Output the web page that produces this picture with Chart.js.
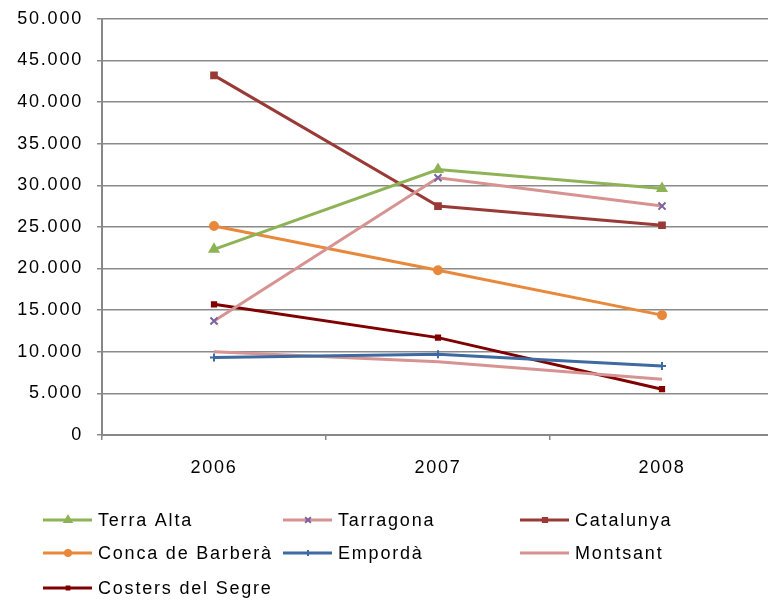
<!DOCTYPE html>
<html>
<head>
<meta charset="utf-8">
<script src="https://cdn.jsdelivr.net/npm/chart.js@4.4.1/dist/chart.umd.min.js"></script>
<style>
  html, body { margin: 0; padding: 0; background: #fff; overflow: hidden; }
  #clip { width: 768px; height: 604px; overflow: hidden; }
  #wrap { width: 781px; height: 610px; position: relative; margin-top: -6px; }
</style>
</head>
<body>
<div id="clip"><div id="wrap"><canvas id="myChart"></canvas></div></div>
<script>
// datos
const years = ['2006', '2007', '2008'];
const terraAlta = [22300, 31900, 29600];
const tarragona = [13700, 30900, 27500];
const catalunya = [43200, 27500, 25200];
const concaBarbera = [25100, 19800, 14400];
const emporda = [9300, 9700, 8300];
const montsant = [10000, 8800, 6700];
const costersSegre = [15700, 11700, 5500];
const yTicks = [0, 5000, 10000, 15000, 20000, 25000, 30000, 35000, 40000, 45000, 50000];

const FONT = 'Liberation Sans, Arial, sans-serif';

const mkSet = (label, data, color, style, radius, pointColor) => ({
    label: label,
    data: data,
    borderColor: color,
    backgroundColor: pointColor || color,
    pointBorderColor: pointColor || color,
    pointBackgroundColor: pointColor || color,
    borderWidth: 3,
    pointStyle: style,
    pointRadius: radius,
    pointBorderWidth: 2,
    tension: 0
});

const datasets = [
    mkSet('Terra Alta', terraAlta, '#8EB356', 'triangle', 5),
    mkSet('Tarragona', tarragona, '#D69391', 'crossRot', 5, '#7B62A3'),
    mkSet('Catalunya', catalunya, '#9A3A36', 'rect', 4),
    mkSet('Conca de Barberà', concaBarbera, '#E8883A', 'circle', 4),
    mkSet('Empordà', emporda, '#3C6AA1', 'cross', 4),
    mkSet('Montsant', montsant, '#D69391', 'circle', 0),
    mkSet('Costers del Segre', costersSegre, '#800000', 'rect', 3)
];

// el texto del original es mas ancho
const wideText = {
    id: 'wideText',
    beforeUpdate(chart) { chart.ctx.letterSpacing = '1.8px'; },
    beforeDraw(chart) { chart.ctx.letterSpacing = '1.8px'; }
};

// leyenda en tres columnas como en el original (canvas desplazado 6px)
const gridLegend = {
    id: 'gridLegend',
    afterDraw(chart) {
        const ctx = chart.ctx;
        const cols = [43, 283, 520];
        const rows = [526, 559, 594];
        ctx.save();
        chart.data.datasets.forEach((ds, i) => {
            const x = cols[i % 3];
            const y = rows[Math.floor(i / 3)];
            ctx.strokeStyle = ds.borderColor;
            ctx.lineWidth = 3;
            ctx.beginPath();
            ctx.moveTo(x, y);
            ctx.lineTo(x + 49, y);
            ctx.stroke();
            if (ds.pointRadius > 0) {
                ctx.fillStyle = ds.pointBackgroundColor;
                ctx.strokeStyle = ds.pointBorderColor;
                ctx.lineWidth = 2;
                Chart.helpers.drawPoint(ctx, {pointStyle: ds.pointStyle, radius: ds.pointRadius - 1, borderWidth: 2}, x + 25, y);
            }
            ctx.fillStyle = '#000';
            ctx.font = '18px ' + FONT;
            ctx.textBaseline = 'middle';
            ctx.fillText(ds.label, x + 55, y + 1);
        });
        ctx.restore();
    }
};

const chart = document.getElementById('myChart');

new Chart(chart, {
    type: 'line',
    data: { labels: years, datasets: datasets },
    options: {
        responsive: true,
        maintainAspectRatio: false,
        animation: false,
        layout: { padding: { top: 4, right: 0, left: 0, bottom: 0 } },
        plugins: { legend: { display: false }, tooltip: { enabled: false } },
        scales: {
            x: {
                offset: true,
                grid: { display: true, drawOnChartArea: false, offset: true, tickLength: 5, color: '#888', lineWidth: 1.5 },
                border: { color: '#888', width: 2 },
                ticks: { color: '#000', font: { family: FONT, size: 18 }, padding: 17, maxRotation: 0 },
                afterFit: s => { s.height = 169; }
            },
            y: {
                min: 0,
                max: 50000,
                afterBuildTicks: s => { s.ticks = yTicks.map(v => ({ value: v })); },
                grid: { color: '#8a8a8a', lineWidth: 1.5, tickLength: 5 },
                border: { color: '#888', width: 2 },
                ticks: {
                    color: '#000',
                    font: { family: FONT, size: 18 },
                    padding: 14,
                    callback: v => v.toLocaleString('de-DE')
                },
                afterFit: s => { s.width = 102; }
            }
        }
    },
    plugins: [wideText, gridLegend]
});
</script>
</body>
</html>
